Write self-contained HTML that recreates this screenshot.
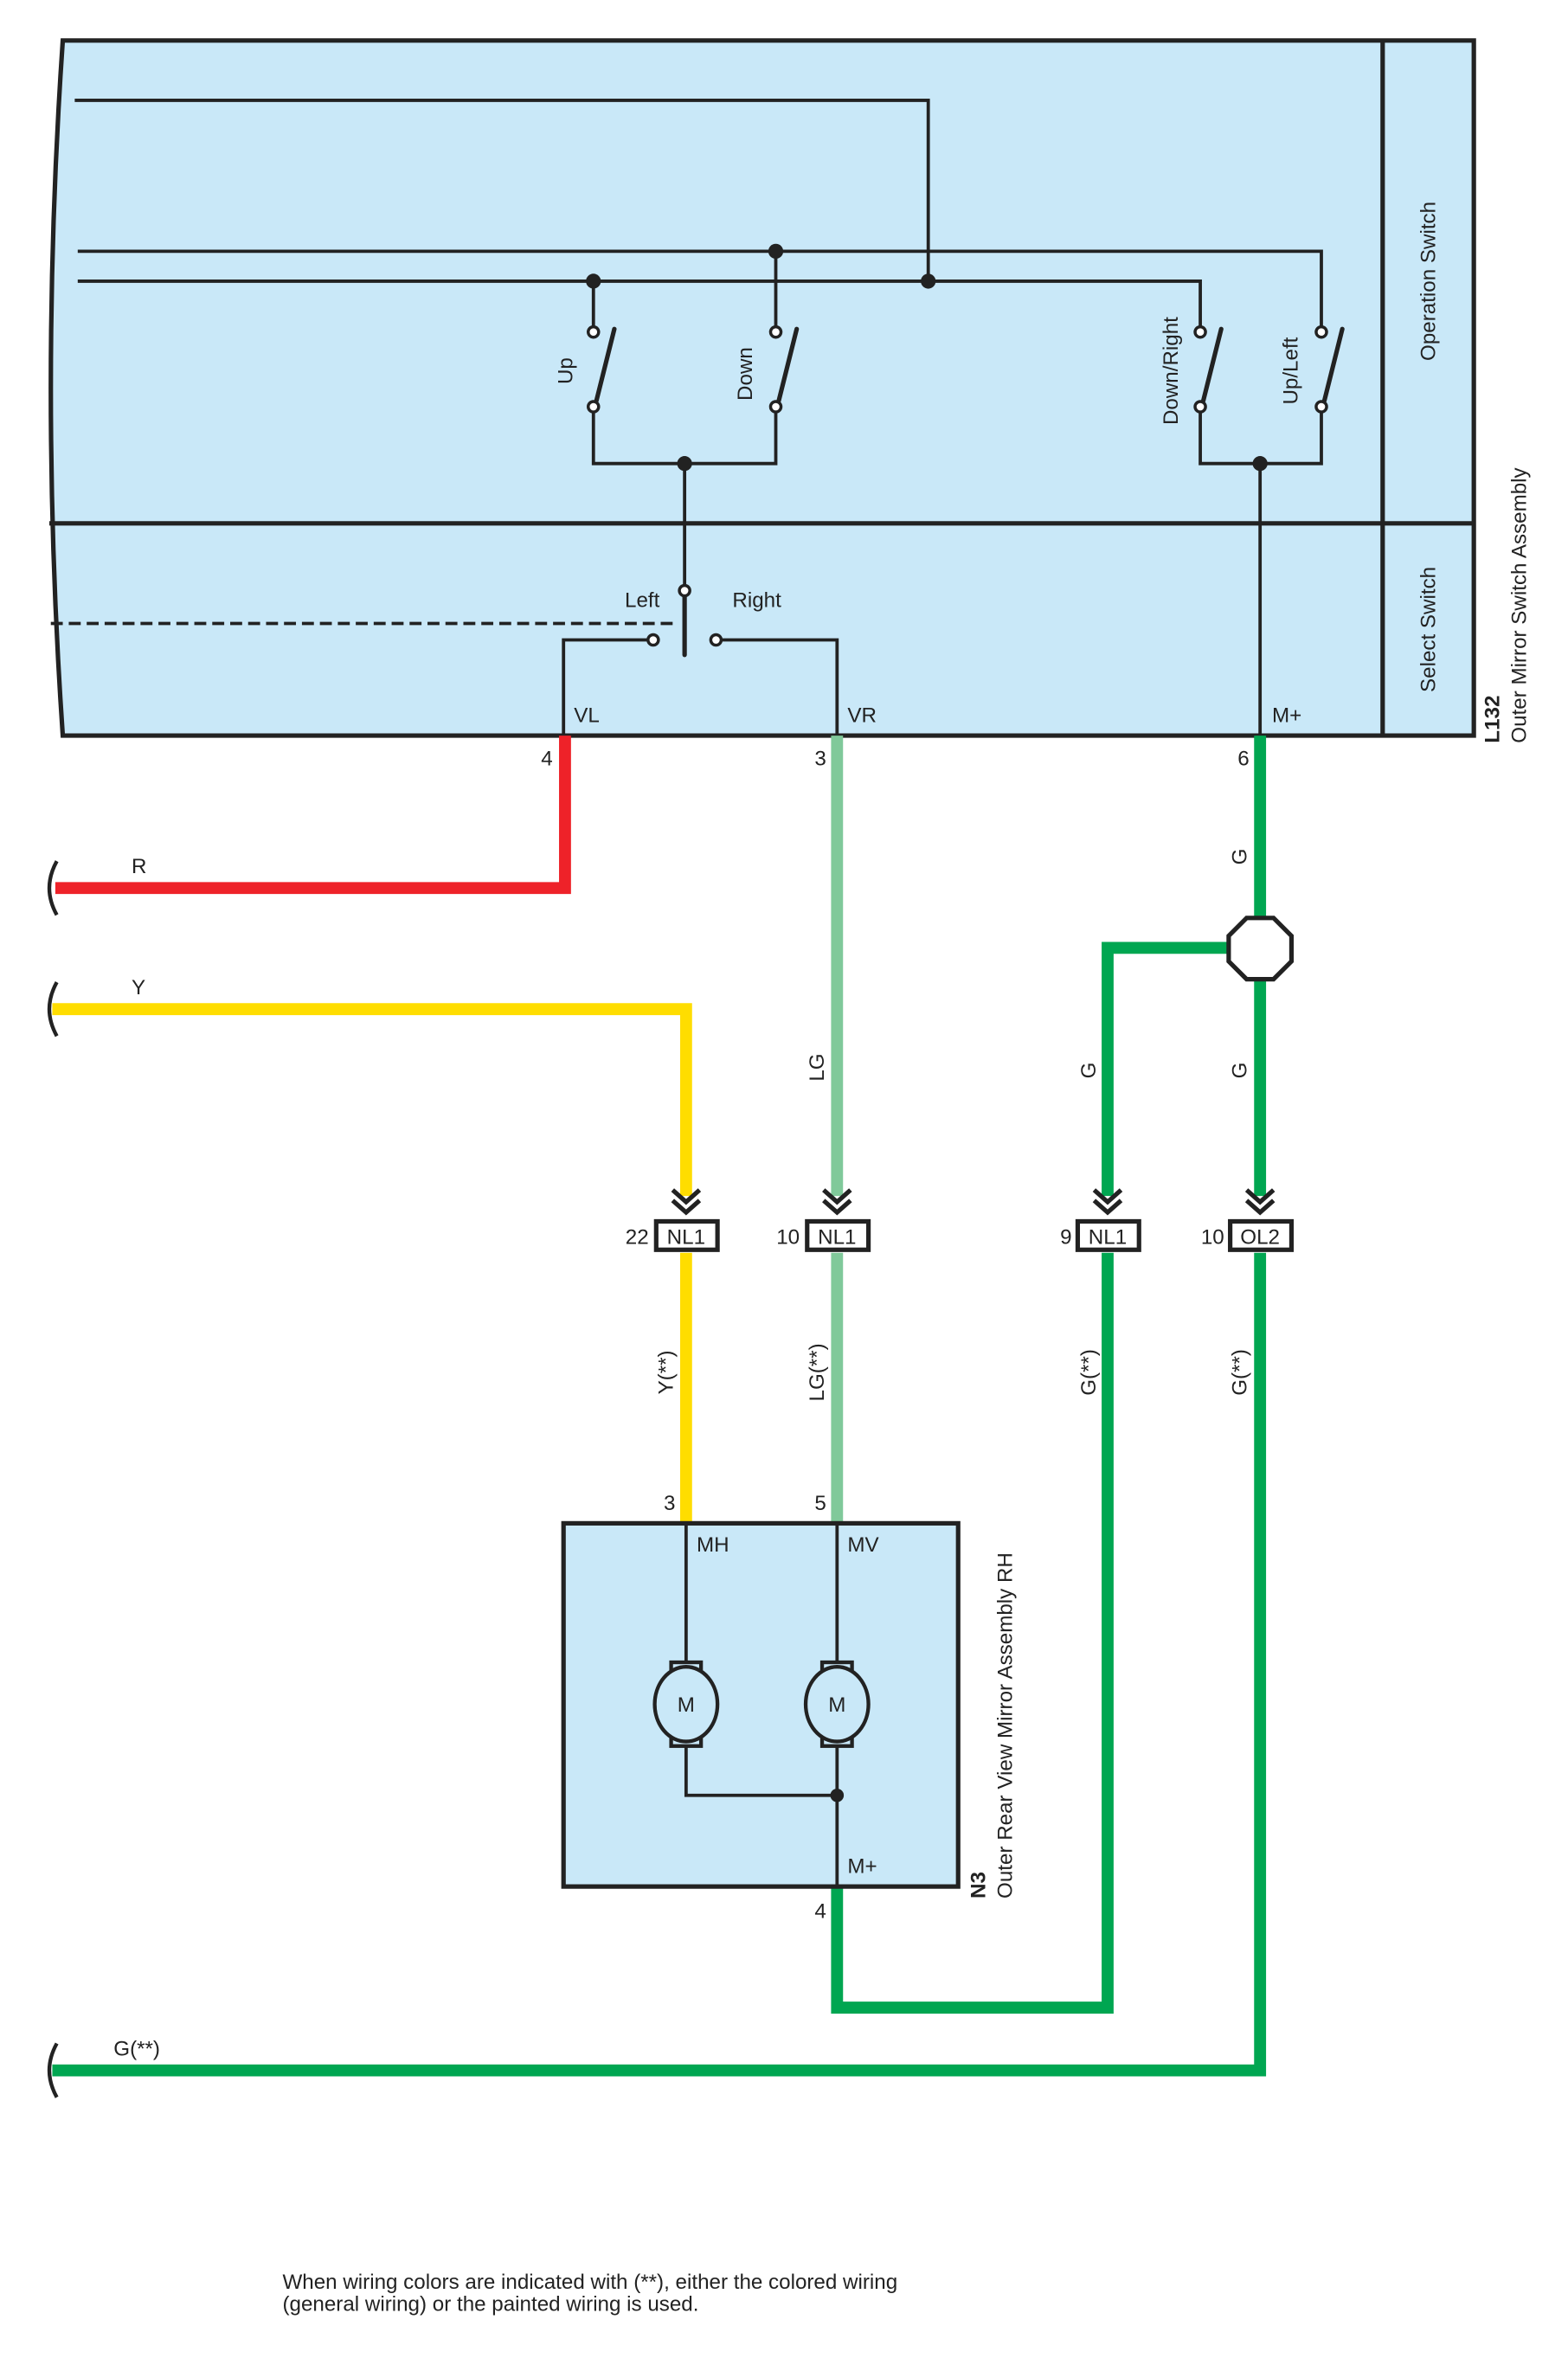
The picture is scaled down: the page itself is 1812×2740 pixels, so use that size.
<!DOCTYPE html>
<html><head><meta charset="utf-8"><style>
html,body{margin:0;padding:0;background:#fff}
svg{display:block}
text{font-family:"Liberation Sans",Arial,sans-serif;font-size:14px;fill:#222}
</style></head><body>
<svg width="1812" height="2740" viewBox="0 0 1049 1586" xmlns="http://www.w3.org/2000/svg">
<!-- main box -->
<path d="M42,27 L986,27 L986,492 L42,492 Q26,260 42,27 Z" fill="#c9e8f8" stroke="#222" stroke-width="3"/>
<line x1="925" y1="27" x2="925" y2="492" stroke="#222" stroke-width="3"/>
<line x1="33" y1="350" x2="986" y2="350" stroke="#222" stroke-width="3"/>
<g stroke="#222" stroke-width="2.2" fill="none">
<polyline points="50,67 621,67 621,188"/>
<polyline points="52,168 884,168 884,220"/>
<polyline points="52,188 803,188 803,220"/>
<line x1="397" y1="188" x2="397" y2="220"/>
<line x1="519" y1="168" x2="519" y2="220"/>
<polyline points="397,272 397,310 519,310 519,272"/>
<polyline points="803,272 803,310 884,310 884,272"/>
<line x1="843" y1="310" x2="843" y2="492"/>
<line x1="458" y1="310" x2="458" y2="395"/>
<polyline points="437,428 377,428 377,492"/>
<polyline points="479,428 560,428 560,492"/>
<line x1="34" y1="417" x2="450" y2="417" stroke-dasharray="8,4"/>
</g>
<g stroke="#222" stroke-width="3" stroke-linecap="round">
<line x1="399" y1="268" x2="411" y2="220"/>
<line x1="521" y1="268" x2="533" y2="220"/>
<line x1="805" y1="268" x2="817" y2="220"/>
<line x1="886" y1="268" x2="898" y2="220"/>
<line x1="458" y1="399" x2="458" y2="438"/>
</g>
<g fill="#222">
<circle cx="397" cy="188" r="5"/><circle cx="519" cy="168" r="5"/><circle cx="621" cy="188" r="5"/>
<circle cx="458" cy="310" r="5"/><circle cx="843" cy="310" r="5"/>
</g>
<g fill="#fff" stroke="#222" stroke-width="2">
<circle cx="397" cy="222" r="3.5"/><circle cx="397" cy="272" r="3.5"/>
<circle cx="519" cy="222" r="3.5"/><circle cx="519" cy="272" r="3.5"/>
<circle cx="803" cy="222" r="3.5"/><circle cx="803" cy="272" r="3.5"/>
<circle cx="884" cy="222" r="3.5"/><circle cx="884" cy="272" r="3.5"/>
<circle cx="458" cy="395" r="3.5"/><circle cx="437" cy="428" r="3.5"/><circle cx="479" cy="428" r="3.5"/>
</g>
<text transform="translate(383,248) rotate(-90)" text-anchor="middle">Up</text>
<text transform="translate(503,250) rotate(-90)" text-anchor="middle">Down</text>
<text transform="translate(788,248) rotate(-90)" text-anchor="middle">Down/Right</text>
<text transform="translate(868,248) rotate(-90)" text-anchor="middle">Up/Left</text>
<text x="418" y="406">Left</text><text x="490" y="406">Right</text>
<text x="384" y="483">VL</text><text x="567" y="483">VR</text><text x="851" y="483">M+</text>
<text transform="translate(960,188) rotate(-90)" text-anchor="middle">Operation Switch</text>
<text transform="translate(960,421) rotate(-90)" text-anchor="middle">Select Switch</text>
<text transform="translate(1003,497) rotate(-90)" font-weight="bold">L132</text>
<text transform="translate(1021,497) rotate(-90)">Outer Mirror Switch Assembly</text>
<text x="362" y="512">4</text><text x="545" y="512">3</text><text x="828" y="512">6</text>

<!-- wires -->
<g fill="none" stroke-width="8" stroke-linejoin="miter">
<polyline points="378,492 378,594 37,594" stroke="#ee2229"/>
<polyline points="35,675 459,675 459,800" stroke="#ffdd00"/>
<line x1="560" y1="492" x2="560" y2="800" stroke="#80c99a"/>
<line x1="843" y1="492" x2="843" y2="615" stroke="#00a651"/>
<line x1="843" y1="655" x2="843" y2="800" stroke="#00a651"/>
<polyline points="822,634 741,634 741,800" stroke="#00a651"/>
<line x1="459" y1="838" x2="459" y2="1019" stroke="#ffdd00"/>
<line x1="560" y1="838" x2="560" y2="1019" stroke="#80c99a"/>
<polyline points="560,1262 560,1343 741,1343 741,838" stroke="#00a651"/>
<polyline points="843,838 843,1385 35,1385" stroke="#00a651"/>
</g>
<g fill="none" stroke="#222" stroke-width="2.5">
<path d="M38,576 Q28,594 38,612"/><path d="M38,657 Q28,675 38,693"/><path d="M38,1367 Q28,1385 38,1403"/>
</g>
<polygon points="834,614 852,614 864,626 864,643 852,655 834,655 822,643 822,626" fill="#fff" stroke="#222" stroke-width="3"/>
<text x="88" y="584">R</text><text x="88" y="665">Y</text><text x="76" y="1375">G(**)</text>
<text transform="translate(551,714) rotate(-90)" text-anchor="middle">LG</text>
<text transform="translate(834,573) rotate(-90)" text-anchor="middle">G</text>
<text transform="translate(733,716) rotate(-90)" text-anchor="middle">G</text>
<text transform="translate(834,716) rotate(-90)" text-anchor="middle">G</text>

<!-- connectors -->
<g id="c">
</g>
<g stroke="#222" stroke-width="3" fill="none">
<polyline points="450,796 459,804 468,796"/><polyline points="450,803 459,811 468,803"/>
<polyline points="551,796 560,804 569,796"/><polyline points="551,803 560,811 569,803"/>
<polyline points="732,796 741,804 750,796"/><polyline points="732,803 741,811 750,803"/>
<polyline points="834,796 843,804 852,796"/><polyline points="834,803 843,811 852,803"/>
<rect x="439" y="817" width="41" height="19" fill="#fff"/>
<rect x="540" y="817" width="41" height="19" fill="#fff"/>
<rect x="721" y="817" width="41" height="19" fill="#fff"/>
<rect x="823" y="817" width="41" height="19" fill="#fff"/>
</g>
<g text-anchor="middle"><text x="459" y="832">NL1</text><text x="560" y="832">NL1</text><text x="741" y="832">NL1</text><text x="843" y="832">OL2</text></g>
<g text-anchor="end"><text x="434" y="832">22</text><text x="535" y="832">10</text><text x="717" y="832">9</text><text x="819" y="832">10</text></g>
<text transform="translate(450,918) rotate(-90)" text-anchor="middle">Y(**)</text>
<text transform="translate(551,918) rotate(-90)" text-anchor="middle">LG(**)</text>
<text transform="translate(733,918) rotate(-90)" text-anchor="middle">G(**)</text>
<text transform="translate(834,918) rotate(-90)" text-anchor="middle">G(**)</text>

<!-- N3 -->
<rect x="377" y="1019" width="264" height="243" fill="#c9e8f8" stroke="#222" stroke-width="3"/>
<g stroke="#222" stroke-width="2.2" fill="none">
<line x1="459" y1="1019" x2="459" y2="1113"/>
<line x1="560" y1="1019" x2="560" y2="1113"/>
<polyline points="459,1167 459,1201 560,1201"/>
<line x1="560" y1="1167" x2="560" y2="1262"/>
</g>
<g stroke="#222" stroke-width="2.5" fill="#c9e8f8">
<rect x="449" y="1112" width="20" height="9"/><rect x="449" y="1159" width="20" height="9"/>
<rect x="550" y="1112" width="20" height="9"/><rect x="550" y="1159" width="20" height="9"/>
<ellipse cx="459" cy="1140" rx="21" ry="25"/><ellipse cx="560" cy="1140" rx="21" ry="25"/>
</g>
<circle cx="560" cy="1201" r="4.5" fill="#222"/>
<text x="459" y="1145" text-anchor="middle">M</text><text x="560" y="1145" text-anchor="middle">M</text>
<text x="466" y="1038">MH</text><text x="567" y="1038">MV</text><text x="567" y="1253">M+</text>
<text x="444" y="1010">3</text><text x="545" y="1010">5</text><text x="545" y="1283">4</text>
<text transform="translate(659,1270) rotate(-90)" font-weight="bold">N3</text>
<text transform="translate(677,1270) rotate(-90)">Outer Rear View Mirror Assembly RH</text>
<text x="189" y="1531">When wiring colors are indicated with (**),  either the colored wiring</text>
<text x="189" y="1546">(general wiring) or the painted wiring is used.</text>
</svg>
</body></html>
